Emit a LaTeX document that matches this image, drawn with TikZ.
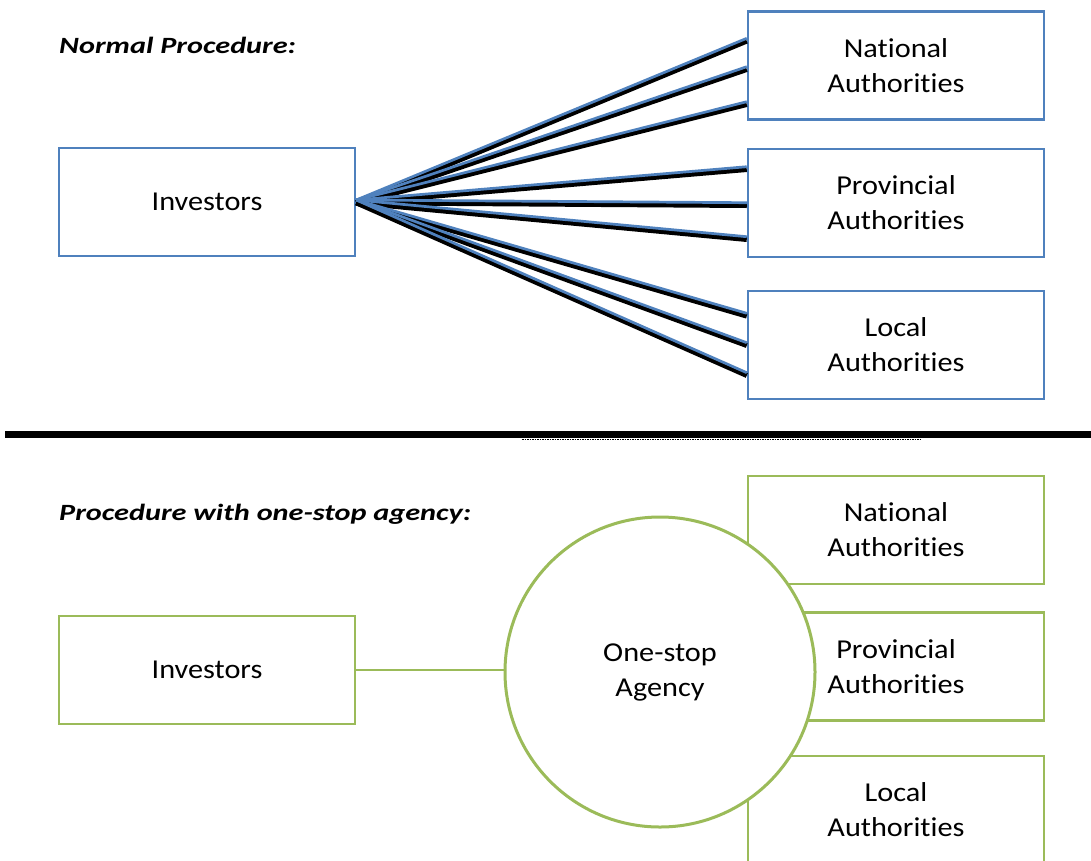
\documentclass[tikz,border=0pt]{standalone}
\usepackage{fontspec}
\setmainfont{Carlito}[FakeStretch=1.11, Ligatures=NoCommon]
\newfontfamily\titlefont{Carlito}[FakeStretch=1.3, Ligatures=NoCommon]
\usetikzlibrary{calc}
\definecolor{boxblue}{HTML}{4F81BD}
\definecolor{boxgreen}{HTML}{9BBB59}
\tikzset{
  bodytext/.style={font=\fontsize{27.3}{35}\selectfont, align=center},
  titletext/.style={font=\titlefont\bfseries\itshape\fontsize{23.3}{28}\selectfont, anchor=base west, inner sep=0pt},
  blockbase/.style={rectangle, draw, line width=2.5pt, minimum width=296pt, minimum height=108pt, inner sep=0pt, fill=white, bodytext},
  bluebox/.style={blockbase, draw=boxblue},
  greenbox/.style={blockbase, draw=boxgreen},
  agencycircle/.style={circle, draw=boxgreen, line width=3pt, fill=white, minimum size=310pt, inner sep=0pt, bodytext},
  fanshadow/.style={draw=black, line width=5pt},
  fanline/.style={draw=boxblue, line width=2.7pt},
  greenlink/.style={draw=boxgreen, line width=2.5pt},
  separator/.style={draw=black, line width=7pt},
}
\begin{document}
\begin{tikzpicture}[x=1pt, y=-1pt]
\useasboundingbox (0,0) rectangle (1091,860);
\clip (0,0) rectangle (1091,860);

% ---- normal procedure ----
\node[titletext] (title1) at (59,53) {Normal Procedure:};
\node[bluebox] (inv1) at (207,202) {Investors};
\node[bluebox] (nat1) at (896,65.5) {National\\Authorities};
\node[bluebox] (prov1) at (896,203) {Provincial\\Authorities};
\node[bluebox] (loc1) at (896,345) {Local\\Authorities};

\coordinate (src) at ([yshift=2pt]inv1.east);
\coordinate (n1) at ([yshift=27.2pt]nat1.west);
\coordinate (n2) at ([yshift=-1.2pt]nat1.west);
\coordinate (n3) at ([yshift=-36.2pt]nat1.west);
\coordinate (p1) at ([yshift=36.3pt]prov1.west);
\coordinate (p2) at ([yshift=0.3pt]prov1.west);
\coordinate (p3) at ([yshift=-33.7pt]prov1.west);
\coordinate (l1) at ([yshift=31.7pt]loc1.west);
\coordinate (l2) at ([yshift=2.3pt]loc1.west);
\coordinate (l3) at ([yshift=-27.7pt]loc1.west);

% each fan line carries a dark drop shadow just below it
\foreach \e in {n1,n2,n3,p1,p2,p3,l1,l2,l3}
  \draw[fanshadow] ([yshift=-2.8pt]src) -- ([yshift=-2.8pt]\e);
\foreach \e in {n1,n2,n3,p1,p2,p3,l1,l2,l3}
  \draw[fanline] (src) -- (\e);

% ---- separator ----
\coordinate (sepL) at (5,434);
\coordinate (sepR) at (1091,434);
\draw[separator] (sepL) -- (sepR);
\coordinate (dotL) at (522,439.5);
\coordinate (dotR) at (922,439.5);
\draw[densely dotted, line width=1.5pt] (dotL) -- (dotR);

% ---- procedure with one-stop agency ----
\node[titletext] (title2) at (59,520) {Procedure with one-stop agency:};
\node[greenbox] (inv2) at (207,670) {Investors};
\node[greenbox] (nat2) at (896,530) {National\\Authorities};
\node[greenbox] (prov2) at (896,666.5) {Provincial\\Authorities};
\node[greenbox] (loc2) at (896,810) {Local\\Authorities};
\node[agencycircle] (agency) at (660,672) {One-stop\\Agency};
\draw[greenlink] (inv2.east) -- (inv2.east -| agency.west);
\end{tikzpicture}
\end{document}
